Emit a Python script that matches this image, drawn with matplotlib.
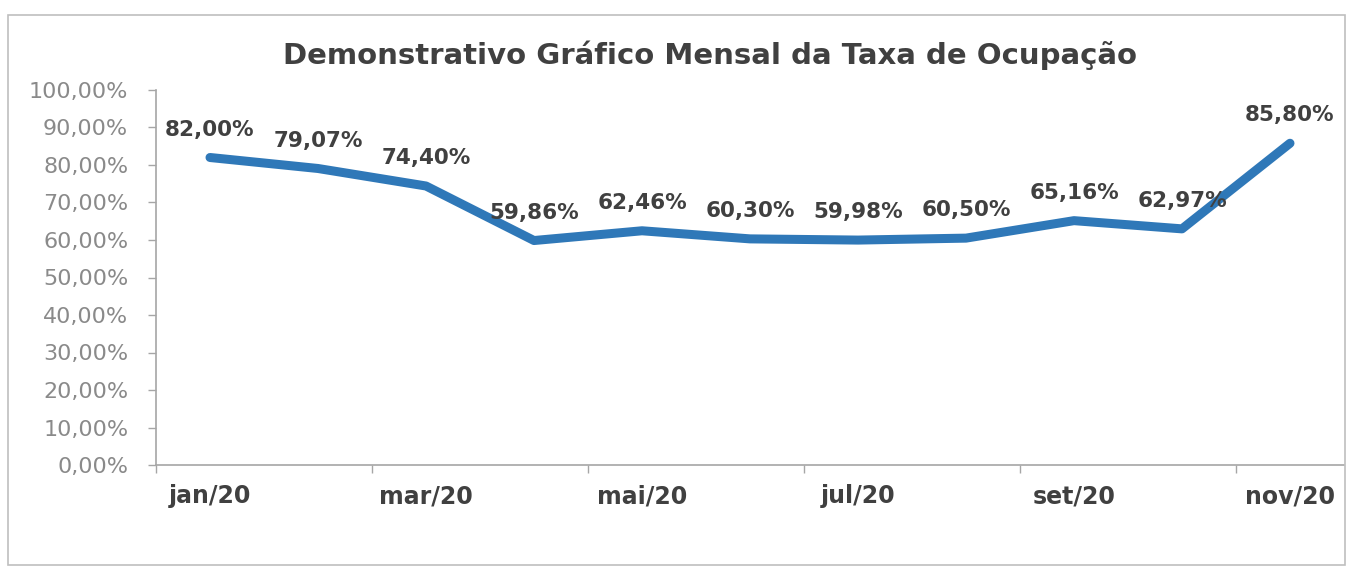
import matplotlib
matplotlib.use("Agg")
import matplotlib.pyplot as plt
from matplotlib.patches import Rectangle

months = ["jan/20", "fev/20", "mar/20", "abr/20", "mai/20", "jun/20",
          "jul/20", "ago/20", "set/20", "out/20", "nov/20"]
values = [82.00, 79.07, 74.40, 59.86, 62.46, 60.30, 59.98, 60.50, 65.16, 62.97, 85.80]
value_labels = ["82,00%", "79,07%", "74,40%", "59,86%", "62,46%", "60,30%",
                "59,98%", "60,50%", "65,16%", "62,97%", "85,80%"]
y_ticks = [0, 10, 20, 30, 40, 50, 60, 70, 80, 90, 100]
y_tick_labels = ["0,00%", "10,00%", "20,00%", "30,00%", "40,00%", "50,00%",
                 "60,00%", "70,00%", "80,00%", "90,00%", "100,00%"]
title = "Demonstrativo Gráfico Mensal da Taxa de Ocupação"

plt.rcParams['font.family'] = ['DejaVu Sans']

W, H = 1353, 570
fig = plt.figure(figsize=(W / 100, H / 100), dpi=100)
fig.patch.set_facecolor("white")

# outer chart frame
fig.patches.append(Rectangle((8 / W, 1 - 565 / H), (1345 - 8) / W, (565 - 15) / H,
                             transform=fig.transFigure, fill=False,
                             edgecolor="#bfbfbf", linewidth=1.2))

ax = fig.add_axes([156 / W, 1 - 465 / H, (1344 - 156) / W, (465 - 90) / H])
x = list(range(len(months)))
ax.plot(x, values, color="#2f78b8", linewidth=6.5, solid_joinstyle="round",
        solid_capstyle="round", zorder=3)

for xi, v, lab in zip(x, values, value_labels):
    ax.annotate(lab, (xi, v), xytext=(0, 20), textcoords="offset points",
                ha="center", va="center", fontsize=15.5, fontweight="bold",
                color="#404040", zorder=4)

ax.set_xlim(-0.5, len(months) - 0.5)
ax.set_ylim(0, 100)

ax.set_yticks(y_ticks)
ax.set_yticklabels(y_tick_labels)
ax.tick_params(axis="y", direction="out", length=6, width=1, color="#a6a6a6",
               labelsize=16, labelcolor="#8a8a8a", pad=14)

# major ticks at category boundaries every two, labels under categories
ax.set_xticks([i - 0.5 for i in range(0, len(months), 2)])
ax.set_xticklabels([])
ax.set_xticks(x[::2], minor=True)
ax.set_xticklabels(months[::2], minor=True)
ax.tick_params(axis="x", which="major", direction="out", length=6, width=1, color="#a6a6a6")
ax.tick_params(axis="x", which="minor", length=0, labelsize=17, labelcolor="#404040", pad=14)
for t in ax.get_xticklabels(minor=True):
    t.set_fontweight("bold")

for s in ["top", "right"]:
    ax.spines[s].set_visible(False)
for s in ["left", "bottom"]:
    ax.spines[s].set_color("#a6a6a6")
    ax.spines[s].set_linewidth(1.2)

fig.text(710 / W, 1 - 55 / H, title, ha="center", va="center", fontsize=21,
         fontweight="bold", color="#404040")

fig.savefig("out.png", dpi=100)
